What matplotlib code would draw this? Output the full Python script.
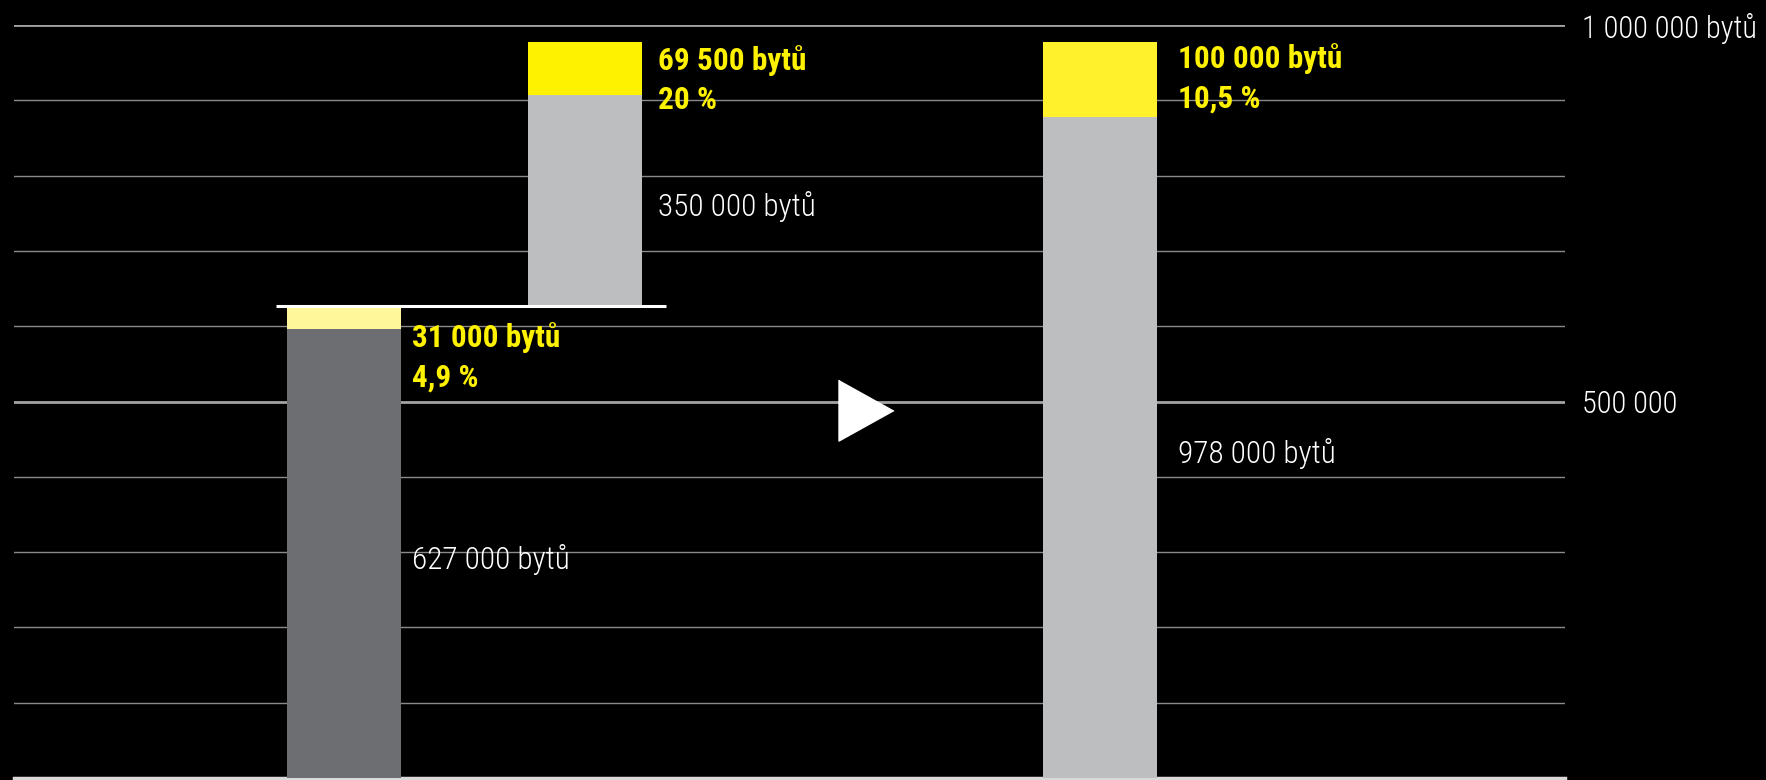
import matplotlib.pyplot as plt
from matplotlib.ticker import MultipleLocator

plt.rcParams['font.family'] = ['Roboto Condensed', 'Fira Sans Condensed', 'DejaVu Sans']

# hodnoty (byty)
zaklad = [0, 627000, 0]              # kde sloupec zacina
stavajici = [596000, 280500, 878000]  # seda cast
nove = [31000, 69500, 100000]         # zluta cast
celkem_popisky = ["627 000 bytů", "350 000 bytů", "978 000 bytů"]
nove_popisky = ["31 000 bytů", "69 500 bytů", "100 000 bytů"]
podil_popisky = ["4,9 %", "20 %", "10,5 %"]

osa_kroky = [500000, 1000000]
osa_popisky = ["500 000", "1 000 000 bytů"]

# vzhled
pozice = [2.9, 5.01, 9.52]
sirka = 1.0
barvy_spodek = ['#6d6e71', '#bcbec0', '#bcbec0']
barvy_vrch = ['#fff799', '#fff200', '#fff22d']
zluta = '#fff200'
posun_popisku = [-42000, -24000, -23000]
odsazeni_x = [0.09, 0.14, 0.19]
vel = 22.5

fig = plt.figure(figsize=(17.66, 7.8), dpi=100, facecolor='black')
ax = fig.add_axes([13.5/1766, 2/780, (1565-13.5)/1766, 753/780])
ax.set_facecolor('black')

for i in range(3):
    ax.bar(pozice[i], stavajici[i], sirka, bottom=zaklad[i], color=barvy_spodek[i], zorder=3)
    ax.bar(pozice[i], nove[i], sirka, bottom=zaklad[i]+stavajici[i], color=barvy_vrch[i], zorder=3)

    x_txt = pozice[i] + sirka/2 + odsazeni_x[i]
    ax.text(x_txt, zaklad[i] + stavajici[i]/2 - 8000, celkem_popisky[i], color='white',
            fontsize=vel, fontweight=300, va='center', ha='left', zorder=4)
    vrch = zaklad[i] + stavajici[i] + nove[i]
    ax.text(x_txt, vrch + posun_popisku[i], nove_popisky[i], color=zluta,
            fontsize=vel, fontweight='bold', va='center', ha='left', zorder=4)
    ax.text(x_txt, vrch + posun_popisku[i] - 53000, podil_popisky[i], color=zluta,
            fontsize=vel, fontweight='bold', va='center', ha='left', zorder=4)

# vodorovna cara na urovni prvniho sloupce
ax.hlines(zaklad[1], pozice[0]-0.6, pozice[1]+0.71, color='white', lw=2.2, zorder=5)

# sipka
ax.plot(7.47, 489000, marker=[(-0.45, 0.5), (-0.45, -0.5), (0.45, 0)],
        ms=44, color='white', mec='white', ls='none', zorder=5)

ax.set_xlim(0, 13.6)
ax.set_ylim(0, 1000000)
ax.set_xticks([])
ax.yaxis.tick_right()
ax.set_yticks(osa_kroky, osa_popisky)
ax.yaxis.set_minor_locator(MultipleLocator(100000))
ax.tick_params(axis='y', which='both', length=0, pad=12, labelsize=22, labelcolor='white')
for lab in ax.get_yticklabels():
    lab.set_fontweight(300)
ax.grid(axis='y', which='major', color='#a3a3a3', lw=2.0, zorder=1)
ax.grid(axis='y', which='minor', color='#8a8a8a', lw=1.0, zorder=1)
ax.set_axisbelow(True)

for s in ['left', 'top', 'right']:
    ax.spines[s].set_visible(False)
ax.spines['bottom'].set_color('#d9d9d9')
ax.spines['bottom'].set_linewidth(2.5)

fig.savefig('out.png', dpi=100, facecolor='black')
